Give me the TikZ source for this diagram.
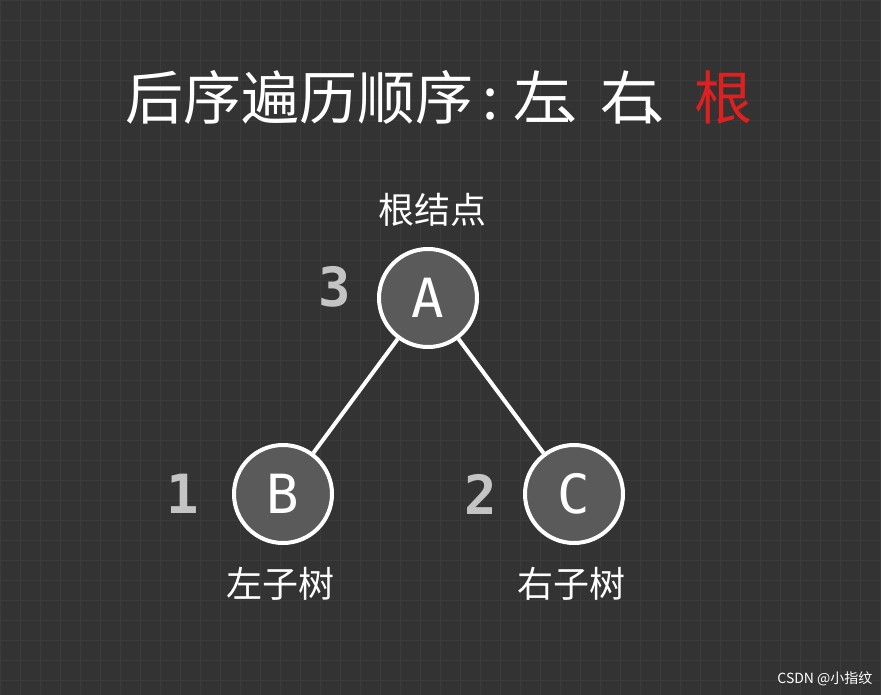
\documentclass[tikz,border=0pt]{standalone}
\usepackage{fontspec}
\newfontfamily\cjk{Noto Sans CJK SC}
\newfontfamily\mono{DejaVu Sans Mono}
\definecolor{bg}{HTML}{333333}
\definecolor{gridc}{HTML}{3B3B3B}
\definecolor{nodefill}{HTML}{5A5A5A}
\definecolor{numc}{HTML}{C4C4C4}
\definecolor{redc}{HTML}{E02020}
\begin{document}
\begin{tikzpicture}[x=1pt,y=-1pt,
  tnode/.style={circle,draw=white,line width=4pt,fill=nodefill,minimum size=98pt,inner sep=0pt,text=white,font=\mono\fontsize{54}{54}\selectfont},
  num/.style={text=numc,font=\mono\bfseries\fontsize{54}{54}\selectfont},
  lab/.style={text=white,font=\cjk\fontsize{36}{36}\selectfont},
  ttl/.style={text=white,font=\cjk\fontsize{58}{58}\selectfont,inner sep=0pt,anchor=base west},
  edge/.style={draw=white,line width=4pt}]
\fill[bg] (0,0) rectangle (881,695);
\useasboundingbox (0,0) rectangle (881,695);
\foreach \i in {0,20,...,880} \draw[gridc,line width=0.8pt] (\i,0) -- (\i,695);
\foreach \j in {0,20,...,695} \draw[gridc,line width=0.8pt] (0,\j) -- (881,\j);
\node[ttl] (t1) at (125,120) {后序遍历顺序};
\node[ttl] (t2) at (482,120) {:};
\node[ttl] (t3) at (513,120) {左};
\node[ttl] (t4) at (555,120) {、};
\node[ttl] (t5) at (600,120) {右};
\node[ttl] (t6) at (642,120) {、};
\node[ttl,text=redc] (t7) at (694,120) {根};
\node[tnode] (A) at (428,298) {A};
\node[tnode] (B) at (283,494) {B};
\node[tnode] (C) at (574,494) {C};
\draw[edge] (A) -- (B);
\draw[edge] (A) -- (C);
\node[lab] (rl) at (432,210) {根结点};
\node[lab] (bl) at (280,584) {左子树};
\node[lab] (cl) at (571,584) {右子树};
\node[num] (n3) at (335,287) {3};
\node[num] (n1) at (183,494) {1};
\node[num] (n2) at (481,494) {2};
\node[text=white,font=\cjk\fontsize{14}{14}\selectfont,anchor=east] (wm) at (876,679) {CSDN @小指纹};
\end{tikzpicture}
\end{document}
